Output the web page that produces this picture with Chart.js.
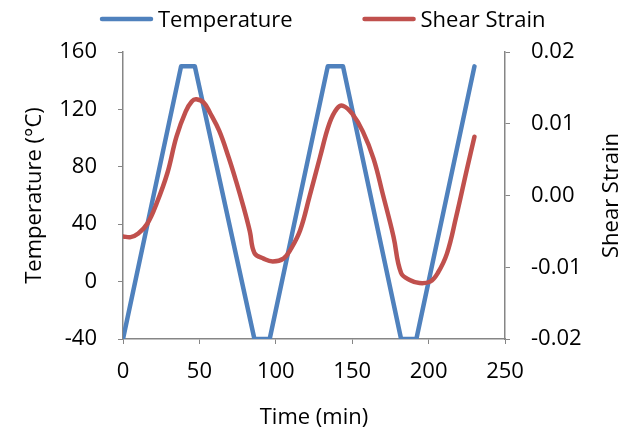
<!DOCTYPE html>
<html>
<head>
<meta charset="utf-8">
<script src="https://cdn.jsdelivr.net/npm/chart.js@4.4.1/dist/chart.umd.min.js"></script>
<style>
  body { margin: 0; background: #fff; }
  #wrap { width: 634px; height: 432px; }
</style>
</head>
<body>
<div id="wrap"><canvas id="cycleChart" width="634" height="432"></canvas></div>
<script>
// temperature program (min, °C)
const tempTime = [0, 38, 47, 86, 96, 134, 144, 182, 192, 230];
const tempValue = [-40, 150, 150, -40, -40, 150, 150, -40, -40, 150];

// measured shear strain (min, -)
const strainTime = [0, 5, 10, 16, 22, 29, 35, 41, 45, 48, 53, 57, 63, 69, 74, 79, 83, 86, 92, 98,
  105, 110, 116, 122, 129, 135, 140, 144, 150, 157, 164, 170, 177, 182, 188, 194, 201, 206, 212, 218,
  225, 230];
const strainValue = [-0.0057, -0.0058, -0.0053, -0.0039, -0.0011, 0.0031, 0.0082, 0.0117, 0.0131, 0.0134,
  0.0129, 0.0115, 0.0090, 0.0054, 0.0020, -0.0017, -0.0050, -0.0080, -0.0088, -0.0092,
  -0.0088, -0.0074, -0.0048, -0.0002, 0.0054, 0.0100, 0.0121, 0.0125, 0.0114, 0.0089,
  0.0051, 0.0002, -0.0057, -0.0108, -0.0118, -0.0122, -0.0120, -0.0108, -0.0081, -0.0030,
  0.0036, 0.0082];

const seriesNames = ['Temperature', 'Shear Strain'];
const rightTitle = 'Shear Strain';
const blue = '#4F81BD';
const red = '#C0504D';
const axisGrey = '#868686';
const font = { family: "'Open Sans', sans-serif", size: 22 };

const toPoints = (xs, ys) => xs.map((x, i) => ({ x: x, y: ys[i] }));

// legend above the plot (line sample + label) and the right axis title read bottom-to-top
const extras = {
  id: 'extras',
  afterDraw(chart) {
    const ctx = chart.ctx;
    ctx.save();
    ctx.font = font.size + 'px ' + font.family;
    ctx.textBaseline = 'alphabetic';
    ctx.textAlign = 'left';
    let x = 100;
    chart.data.datasets
      .slice()
      .sort((a, b) => a.legendIndex - b.legendIndex)
      .forEach((ds) => {
        ctx.strokeStyle = ds.borderColor;
        ctx.lineWidth = ds.borderWidth;
        ctx.lineCap = 'round';
        ctx.beginPath();
        ctx.moveTo(x + 2, 19);
        ctx.lineTo(x + 51, 19);
        ctx.stroke();
        ctx.fillStyle = '#000';
        ctx.fillText(ds.label, x + 58, 26.5);
        x += 58 + ctx.measureText(ds.label).width + 70;
      });

    const area = chart.chartArea;
    ctx.translate(612, (area.top + area.bottom) / 2);
    ctx.rotate(-Math.PI / 2);
    ctx.textAlign = 'center';
    ctx.textBaseline = 'middle';
    ctx.fillText(rightTitle, 0, 0);
    ctx.restore();
  }
};

const ctx = document.getElementById('cycleChart').getContext('2d');
new Chart(ctx, {
  type: 'line',
  data: {
    datasets: [
      {
        label: seriesNames[0],
        legendIndex: 0,
        data: toPoints(tempTime, tempValue),
        borderColor: blue,
        borderWidth: 4.5,
        borderJoinStyle: 'round',
        borderCapStyle: 'round',
        pointRadius: 0,
        tension: 0,
        yAxisID: 'y',
        order: 1
      },
      {
        label: seriesNames[1],
        legendIndex: 1,
        data: toPoints(strainTime, strainValue),
        borderColor: red,
        borderWidth: 4.5,
        borderCapStyle: 'round',
        borderJoinStyle: 'round',
        pointRadius: 0,
        tension: 0.4,
        yAxisID: 'y1',
        order: 0
      }
    ]
  },
  options: {
    responsive: false,
    animation: false,
    layout: { padding: { top: 52 } },
    plugins: {
      legend: { display: false },
      tooltip: { enabled: false }
    },
    scales: {
      x: {
        type: 'linear',
        min: 0,
        max: 250,
        ticks: { stepSize: 50, color: '#000', font: font, padding: 15, maxRotation: 0 },
        grid: { drawOnChartArea: false, color: axisGrey, tickLength: 5 },
        border: { color: axisGrey, width: 1.5 },
        title: { display: true, text: 'Time (min)', color: '#000', font: font, padding: { top: 0, bottom: 1 } },
        afterFit: (scale) => { scale.height = 93; }
      },
      y: {
        position: 'left',
        min: -40,
        max: 160,
        ticks: { stepSize: 40, color: '#000', font: font, padding: 21 },
        grid: { drawOnChartArea: false, color: axisGrey, tickLength: 5 },
        border: { color: axisGrey, width: 1.5 },
        title: { display: true, text: 'Temperature (°C)', color: '#000', font: font, padding: { top: 22, bottom: 0 } },
        afterFit: (scale) => { scale.width = 123; }
      },
      y1: {
        position: 'right',
        min: -0.02,
        max: 0.02,
        ticks: {
          stepSize: 0.01,
          color: '#000',
          font: font,
          padding: 21,
          callback: (v) => Number(v).toFixed(2)
        },
        grid: { drawOnChartArea: false, color: axisGrey, tickLength: 5 },
        border: { color: axisGrey, width: 1.5 },
        afterFit: (scale) => { scale.width = 129; }
      }
    }
  },
  plugins: [extras]
});
</script>
</body>
</html>
